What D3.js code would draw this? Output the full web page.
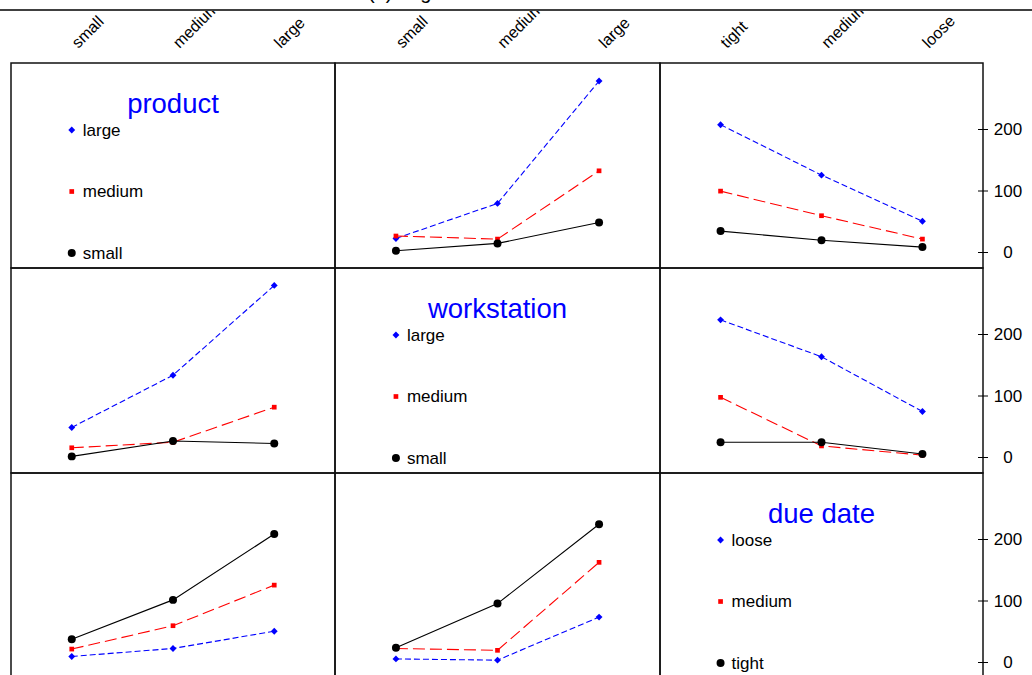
<!DOCTYPE html>
<html>
<head>
<meta charset="utf-8">
<script src="https://cdn.jsdelivr.net/npm/d3@7"></script>
<style>
  body { margin: 0; background: #fff; }
  text { font-family: "Liberation Sans", Arial, sans-serif; }
</style>
</head>
<body>
<div id="chart"></div>
<script>
// Factors and their levels (x axis order)
const factorNames = ["product", "workstation", "due date"];
const productLevels = ["small", "medium", "large"];
const workstationLevels = ["small", "medium", "large"];
const dueDateLevels = ["tight", "medium", "loose"];

// Legend order (top to bottom) = series order blue, red, black
const productLegend = ["large", "medium", "small"];
const workstationLegend = ["large", "medium", "small"];
const dueDateLegend = ["loose", "medium", "tight"];

// Cell means, one array per trace level: [blue, red, black]
const productByWorkstation = [[22, 79, 278], [26, 21, 132], [2, 14, 48]];
const productByDueDate = [[207, 125, 50], [99, 59, 21], [34, 19, 8]];
const workstationByProduct = [[48, 133, 279], [15, 24, 81], [1, 26, 22]];
const workstationByDueDate = [[223, 163, 74], [97, 18, 3], [24, 24, 5]];
const dueDateByProduct = [[9, 22, 50], [21, 59, 125], [37, 101, 208]];
const dueDateByWorkstation = [[5, 3, 73], [22, 19, 162], [23, 95, 224]];

const yTicks = [0, 100, 200];

// Layout
const w = 1032, h = 675;
const colEdges = [11, 335, 660, 983];
const rowTops = [63, 268, 473];
const rowH = 205;

const levels = [productLevels, workstationLevels, dueDateLevels];
const legends = [productLegend, workstationLegend, dueDateLegend];
const cells = {
  "0-1": productByWorkstation, "0-2": productByDueDate,
  "1-0": workstationByProduct, "1-2": workstationByDueDate,
  "2-0": dueDateByProduct, "2-1": dueDateByWorkstation
};

const styles = [
  { color: "#0000ff", dash: "6,3", symbol: d3.symbolDiamond2 || d3.symbolDiamond, size: 30 },
  { color: "#ff0000", dash: "12,5", symbol: d3.symbolSquare, size: 22 },
  { color: "#000000", dash: null, symbol: d3.symbolCircle, size: 50 }
];

const svg = d3.select("#chart").append("svg")
  .attr("width", w).attr("height", h);

// Scales
const xScales = levels.map((lv, c) => d3.scalePoint()
  .domain(lv).range([colEdges[c], colEdges[c + 1]]).padding(0.6));
const yScales = rowTops.map(t => d3.scaleLinear()
  .domain([0, 200]).range([t + 189, t + 66]));

// Title (mostly cut off above)
svg.append("text").attr("x", 368).attr("y", -1)
  .style("font-size", "20px").text("(a) Lognormal");

// Top axis line
svg.append("line").attr("x1", 0).attr("x2", w).attr("y1", 10).attr("y2", 10)
  .attr("stroke", "#000").attr("stroke-width", 1.5);

svg.append("clipPath").attr("id", "topclip")
  .append("rect").attr("x", 0).attr("y", 11).attr("width", w).attr("height", 60);
const topAxis = svg.append("g").attr("clip-path", "url(#topclip)");
xScales.forEach(x => {
  const g = topAxis.append("g").attr("transform", "translate(0,49)")
    .call(d3.axisTop(x).tickSize(0));
  g.select(".domain").remove();
  g.selectAll("text")
    .attr("x", 0).attr("y", 0).attr("dy", 0)
    .attr("text-anchor", "start")
    .attr("transform", "translate(6,0) rotate(-45)")
    .style("font-size", "16px").style("font-family", "Liberation Sans, Arial, sans-serif")
    .attr("fill", "#000");
});

// Panels
for (let r = 0; r < 3; r++) {
  for (let c = 0; c < 3; c++) {
    const x = xScales[c], y = yScales[r];
    const g = svg.append("g");
    g.append("rect")
      .attr("x", colEdges[c]).attr("y", rowTops[r])
      .attr("width", colEdges[c + 1] - colEdges[c]).attr("height", rowH)
      .attr("fill", "none").attr("stroke", "#111").attr("stroke-width", 1.5);

    if (r === c) {
      // Legend panel
      g.append("text")
        .attr("x", (colEdges[c] + colEdges[c + 1]) / 2).attr("y", rowTops[r] + 50)
        .attr("text-anchor", "middle").attr("fill", "#0000ff")
        .style("font-size", "27.5px").text(factorNames[r]);
      const lx = x(levels[c][0]);
      legends[r].forEach((name, i) => {
        const ly = y(yTicks[2 - i]) + 1;
        g.append("path")
          .attr("d", d3.symbol(styles[i].symbol, styles[i].size)())
          .attr("transform", `translate(${lx},${ly})`)
          .attr("fill", styles[i].color);
        g.append("text").attr("x", lx + 11).attr("y", ly).attr("dy", "0.35em")
          .style("font-size", "17px").text(name);
      });
      continue;
    }

    const series = cells[`${r}-${c}`];
    const line = d3.line().x((d, i) => x(levels[c][i])).y(d => y(d));
    series.forEach((vals, i) => {
      const s = styles[i];
      g.append("path").datum(vals)
        .attr("d", line).attr("fill", "none")
        .attr("stroke", s.color).attr("stroke-width", 1.1)
        .attr("stroke-dasharray", s.dash);
      g.selectAll(null).data(vals).enter().append("path")
        .attr("d", d3.symbol(s.symbol, s.size)())
        .attr("transform", (d, k) => `translate(${x(levels[c][k])},${y(d)})`)
        .attr("fill", s.color);
    });
  }

  // Right axis for this row
  const ax = svg.append("g").attr("transform", `translate(${colEdges[3]},0)`)
    .call(d3.axisRight(yScales[r]).tickValues(yTicks).tickSize(5).tickPadding(0));
  ax.select(".domain").remove();
  ax.selectAll(".tick line").attr("x1", -5).attr("stroke", "#000");
  ax.selectAll(".tick text")
    .attr("x", 25).attr("text-anchor", "middle").attr("dy", "0.35em")
    .style("font-size", "17px").style("font-family", "Liberation Sans, Arial, sans-serif")
    .attr("fill", "#000");
}
</script>
</body>
</html>
